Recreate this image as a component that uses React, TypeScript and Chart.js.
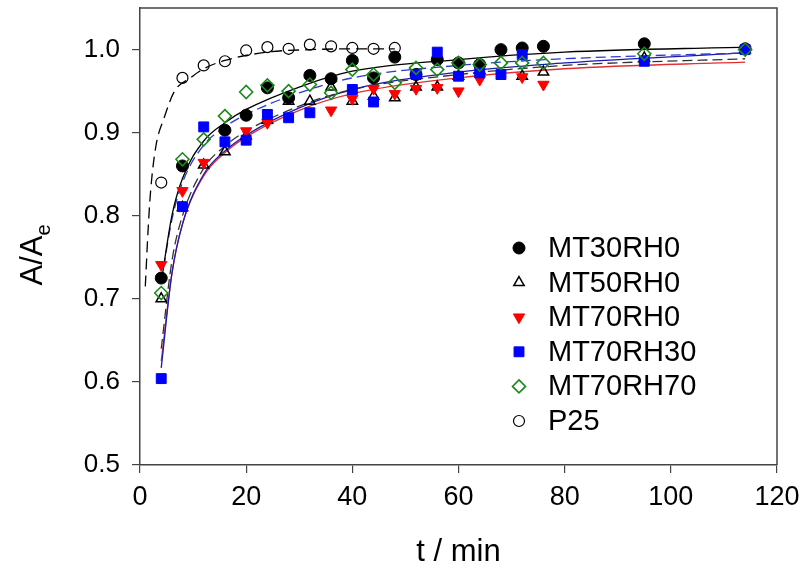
import React, { useEffect, useRef } from "react";
import { Chart, registerables } from "chart.js";

Chart.register(...registerables);

// ---- data ----
const T_MT30RH0 = [4, 8, 16, 20, 24, 28, 32, 36, 40, 44, 48, 52, 56, 60, 64, 68, 72, 76, 95, 114];
const V_MT30RH0 = [0.725, 0.86, 0.903, 0.921, 0.954, 0.942, 0.969, 0.965, 0.987, 0.966, 0.991, 0.97, 0.988, 0.984, 0.982, 1.0, 1.002, 1.004, 1.007, 1.001];

const T_MT50RH0 = [4, 8, 12, 16, 20, 24, 28, 32, 36, 40, 44, 48, 52, 56, 60, 64, 72, 76, 95, 114];
const V_MT50RH0 = [0.7, 0.81, 0.861, 0.877, 0.896, 0.915, 0.938, 0.938, 0.955, 0.938, 0.944, 0.942, 0.955, 0.955, 0.968, 0.975, 0.968, 0.973, 0.99, 1.0];

const T_MT70RH0 = [4, 8, 12, 20, 24, 36, 40, 44, 48, 52, 56, 60, 64, 72, 76, 114];
const V_MT70RH0 = [0.741, 0.83, 0.864, 0.902, 0.912, 0.927, 0.941, 0.953, 0.947, 0.953, 0.954, 0.95, 0.964, 0.967, 0.958, 1.0];

const T_MT70RH30 = [4, 8, 12, 16, 20, 24, 28, 32, 40, 44, 52, 56, 60, 64, 68, 72, 95, 114];
const V_MT70RH30 = [0.604, 0.811, 0.907, 0.889, 0.891, 0.922, 0.918, 0.924, 0.952, 0.937, 0.97, 0.997, 0.968, 0.972, 0.97, 0.994, 0.986, 1.0];

const T_MT70RH70 = [4, 8, 12, 16, 20, 24, 28, 32, 36, 40, 44, 48, 52, 56, 60, 64, 68, 72, 76, 95, 114];
const V_MT70RH70 = [0.707, 0.868, 0.892, 0.92, 0.949, 0.957, 0.95, 0.958, 0.948, 0.976, 0.97, 0.96, 0.978, 0.976, 0.984, 0.982, 0.984, 0.984, 0.984, 0.995, 1.0];

const T_P25 = [4, 8, 12, 16, 20, 24, 28, 32, 36, 40, 44, 48];
const V_P25 = [0.84, 0.966, 0.981, 0.986, 0.999, 1.003, 1.001, 1.006, 1.004, 1.002, 1.001, 1.002];

// fitted curves
const FIT_T = [4, 6, 8, 12, 16, 20, 30, 40, 60, 80, 114];
const FIT_MT30RH0 = [0.72, 0.8, 0.845, 0.89, 0.912, 0.928, 0.955, 0.974, 0.988, 0.997, 1.003];
const FIT_MT70RH70 = [0.72, 0.795, 0.84, 0.885, 0.907, 0.922, 0.948, 0.966, 0.981, 0.989, 0.996];
const FIT_MT50RH0 = [0.64, 0.745, 0.8, 0.857, 0.884, 0.902, 0.932, 0.952, 0.97, 0.981, 0.989];
const FIT_MT70RH30 = [0.617, 0.73, 0.79, 0.85, 0.878, 0.897, 0.93, 0.952, 0.973, 0.984, 0.996];
const FIT_MT70RH0 = [0.625, 0.73, 0.79, 0.848, 0.876, 0.895, 0.927, 0.947, 0.966, 0.977, 0.985];
const FIT_P25_T = [1, 1.5, 2, 3, 4.5, 6.5, 9.5, 12, 16, 24, 32, 40, 48];
const FIT_P25 = [0.715, 0.78, 0.83, 0.884, 0.917, 0.95, 0.966, 0.977, 0.987, 0.997, 1.0, 1.001, 1.001];

const X_TICKS = [0, 20, 40, 60, 80, 100, 120];
const Y_TICKS = [0.5, 0.6, 0.7, 0.8, 0.9, 1.0];

const FONT = "'Liberation Sans', Arial, sans-serif";

const pts = (t: number[], v: number[]) => t.map((x, i) => ({ x, y: v[i] }));

type LegendItem = { label: string; style: string; rot: number; r: number; fill: string; stroke: string; lw: number };

const LEGEND: LegendItem[] = [
  { label: "MT30RH0", style: "circle", rot: 0, r: 6, fill: "#000", stroke: "#000", lw: 1 },
  { label: "MT50RH0", style: "triangle", rot: 0, r: 6, fill: "rgba(0,0,0,0)", stroke: "#000", lw: 1.5 },
  { label: "MT70RH0", style: "triangle", rot: 180, r: 6.5, fill: "#ff0000", stroke: "#ff0000", lw: 1 },
  { label: "MT70RH30", style: "rect", rot: 0, r: 7, fill: "#0000ff", stroke: "#0000ff", lw: 1 },
  { label: "MT70RH70", style: "rectRot", rot: 0, r: 6.5, fill: "rgba(0,0,0,0)", stroke: "#1a8a1a", lw: 1.6 },
  { label: "P25", style: "circle", rot: 0, r: 5.5, fill: "rgba(0,0,0,0)", stroke: "#000", lw: 1.2 },
];

function drawMarker(ctx: CanvasRenderingContext2D, it: LegendItem, x: number, y: number) {
  ctx.save();
  ctx.translate(x, y);
  ctx.rotate((it.rot * Math.PI) / 180);
  ctx.beginPath();
  const r = it.r;
  if (it.style === "circle") {
    ctx.arc(0, 0, r, 0, Math.PI * 2);
  } else if (it.style === "triangle") {
    for (let k = 0; k < 3; k++) {
      const a = (k * 2 * Math.PI) / 3;
      const px = Math.sin(a) * r;
      const py = -Math.cos(a) * r;
      if (k === 0) ctx.moveTo(px, py);
      else ctx.lineTo(px, py);
    }
    ctx.closePath();
  } else if (it.style === "rect") {
    const s = Math.SQRT1_2 * r;
    ctx.rect(-s, -s, 2 * s, 2 * s);
  } else if (it.style === "rectRot") {
    ctx.moveTo(0, -r);
    ctx.lineTo(r, 0);
    ctx.lineTo(0, r);
    ctx.lineTo(-r, 0);
    ctx.closePath();
  }
  ctx.fillStyle = it.fill;
  ctx.fill();
  ctx.lineWidth = it.lw;
  ctx.strokeStyle = it.stroke;
  ctx.stroke();
  ctx.restore();
}

const extrasPlugin = {
  id: "extras",
  afterDraw(chart: any) {
    const ctx: CanvasRenderingContext2D = chart.ctx;
    const a = chart.chartArea;
    // frame
    ctx.save();
    ctx.strokeStyle = "#444";
    ctx.lineWidth = 1.5;
    ctx.beginPath();
    ctx.moveTo(a.left, a.top);
    ctx.lineTo(a.right, a.top);
    ctx.lineTo(a.right, a.bottom);
    ctx.stroke();
    ctx.restore();

    // legend
    ctx.save();
    ctx.font = `29px ${FONT}`;
    ctx.fillStyle = "#000";
    ctx.textBaseline = "middle";
    ctx.textAlign = "left";
    const y0 = 248;
    const dy = 34.6;
    LEGEND.forEach((it, i) => {
      const y = y0 + i * dy;
      drawMarker(ctx, it, 519, y);
      ctx.fillText(it.label, 548, y + 1);
    });
    ctx.restore();

    // y title A/A_e
    ctx.save();
    ctx.translate(33, 255);
    ctx.rotate(-Math.PI / 2);
    ctx.fillStyle = "#000";
    ctx.textBaseline = "middle";
    ctx.font = `31px ${FONT}`;
    const main = "A/A";
    const wMain = ctx.measureText(main).width;
    ctx.font = `20px ${FONT}`;
    const wSub = ctx.measureText("e").width;
    const start = -(wMain + wSub) / 2;
    ctx.font = `31px ${FONT}`;
    ctx.textAlign = "left";
    ctx.fillText(main, start, 0);
    ctx.font = `20px ${FONT}`;
    ctx.fillText("e", start + wMain, 11);
    ctx.restore();
  },
};

export default function App() {
  const ref = useRef<HTMLCanvasElement | null>(null);

  useEffect(() => {
    if (!ref.current) return;
    const scatter = (label: string, t: number[], v: number[], style: string, r: number, bg: string, bc: string, bw: number, rot = 0) => ({
      type: "scatter" as const,
      label,
      data: pts(t, v),
      pointStyle: style,
      pointRadius: r,
      pointRotation: rot,
      backgroundColor: bg,
      borderColor: bc,
      pointBorderWidth: bw,
      borderWidth: bw,
      showLine: false,
    });
    const line = (label: string, t: number[], v: number[], color: string, dash: number[], w = 1.3) => ({
      type: "line" as const,
      label,
      data: pts(t, v),
      borderColor: color,
      backgroundColor: color,
      borderWidth: w,
      borderDash: dash,
      pointRadius: 0,
      cubicInterpolationMode: "monotone" as const,
      fill: false,
    });

    const chart = new Chart(ref.current, {
      type: "scatter",
      data: {
        datasets: [
          scatter("MT70RH70", T_MT70RH70, V_MT70RH70, "rectRot", 6.5, "rgba(0,0,0,0)", "#1a8a1a", 1.6),
          scatter("MT70RH30", T_MT70RH30, V_MT70RH30, "rect", 7, "#0000ff", "#0000ff", 1),
          scatter("MT70RH0", T_MT70RH0, V_MT70RH0, "triangle", 6.5, "#ff0000", "#ff0000", 1, 180),
          scatter("MT50RH0", T_MT50RH0, V_MT50RH0, "triangle", 6, "rgba(0,0,0,0)", "#000", 1.5),
          scatter("MT30RH0", T_MT30RH0, V_MT30RH0, "circle", 6, "#000", "#000", 1),
          scatter("P25", T_P25, V_P25, "circle", 5.5, "rgba(0,0,0,0)", "#000", 1.2),
          line("fit MT30RH0", FIT_T, FIT_MT30RH0, "#000", []),
          line("fit MT70RH70", FIT_T, FIT_MT70RH70, "#2a3ad0", [10, 5]),
          line("fit MT50RH0", FIT_T, FIT_MT50RH0, "#333", [10, 5]),
          line("fit MT70RH30", FIT_T, FIT_MT70RH30, "#1a1ab0", []),
          line("fit MT70RH0", FIT_T, FIT_MT70RH0, "#e03030", []),
          line("fit P25", FIT_P25_T, FIT_P25, "#000", [11, 6]),
        ] as any,
      },
      options: {
        responsive: false,
        animation: false,
        layout: { padding: { top: 8, right: 28, left: 0, bottom: 0 } },
        plugins: { legend: { display: false }, tooltip: { enabled: false } },
        scales: {
          x: {
            type: "linear",
            min: 0,
            max: 120,
            afterBuildTicks: (s: any) => {
              s.ticks = X_TICKS.map((value) => ({ value }));
            },
            afterFit: (s: any) => {
              s.height = 116;
              s.paddingLeft = 0;
              s.paddingRight = 0;
            },
            ticks: { font: { family: FONT, size: 27 }, color: "#000", padding: 8, maxRotation: 0 },
            grid: { drawOnChartArea: false, drawTicks: true, tickLength: 8, color: "#444", lineWidth: 1.2 },
            border: { color: "#444", width: 1.5 },
            title: { display: true, text: "t / min", font: { family: FONT, size: 31 }, color: "#000", padding: { top: 4, bottom: 10 } },
          },
          y: {
            type: "linear",
            min: 0.5,
            max: 1.05,
            afterBuildTicks: (s: any) => {
              s.ticks = Y_TICKS.map((value) => ({ value }));
            },
            afterFit: (s: any) => {
              s.width = 140;
              s.paddingTop = 0;
              s.paddingBottom = 0;
            },
            ticks: {
              font: { family: FONT, size: 26 },
              color: "#000",
              padding: 12,
              callback: (v: any) => Number(v).toFixed(1),
            },
            grid: { drawOnChartArea: false, drawTicks: true, tickLength: 8, color: "#444", lineWidth: 1.2 },
            border: { color: "#444", width: 1.5 },
            title: { display: false },
          },
        },
      },
      plugins: [extrasPlugin],
    });
    return () => chart.destroy();
  }, []);

  return (
    <div style={{ position: "absolute", left: 0, top: 0, width: 805, height: 581, background: "#fff" }}>
      <canvas ref={ref} width={805} height={581} style={{ display: "block" }} />
    </div>
  );
}
